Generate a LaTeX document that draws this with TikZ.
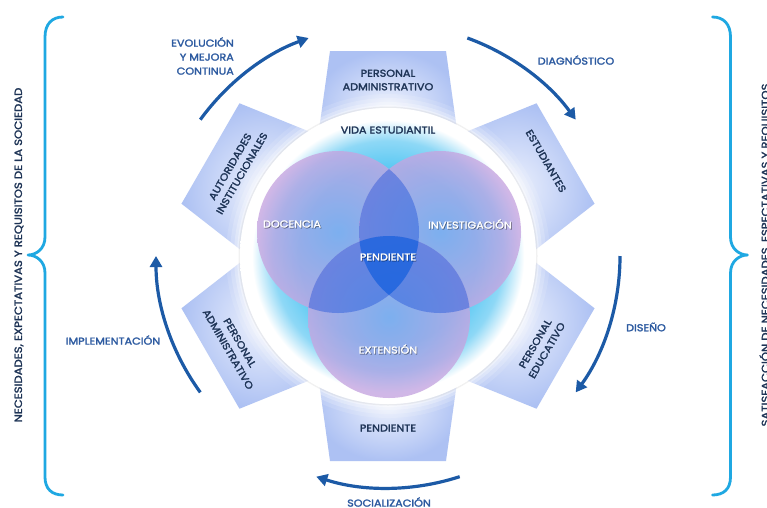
\documentclass[tikz,border=0pt]{standalone}
\usepackage{fontspec}
\setmainfont{Poppins}
\newfontfamily\hf{Poppins}[FakeBold=2.2, FakeStretch=1.12]
\usetikzlibrary{arrows.meta,calc}
\definecolor{navy}{HTML}{1E3456}
\definecolor{lblue}{HTML}{2C5AA0}
\definecolor{arrowblue}{HTML}{1C5AA6}
\definecolor{braceblue}{HTML}{1FA8E2}
\definecolor{panelin}{HTML}{EEF2FD}
\definecolor{panelout}{HTML}{ADC1F3}
\definecolor{cA}{HTML}{5CC9F3}
\definecolor{cB}{HTML}{8ED8F6}
\definecolor{cC}{HTML}{CFEEFB}
\definecolor{vin}{HTML}{86A8EE}
\definecolor{vout}{HTML}{C6A4E0}
\definecolor{ovl}{HTML}{1460DE}
\pgfdeclareradialshading{bigc}{\pgfpoint{0bp}{0bp}}{color(0bp)=(cA); color(15bp)=(cA); color(19.5bp)=(cB); color(21.5bp)=(cC); color(23bp)=(white); color(25bp)=(white); color(50bp)=(white)}
\tikzset{
  ptext/.style={text=navy, font=\hf\fontsize{10}{13.5}\selectfont, align=center, inner sep=0pt},
  atext/.style={text=lblue, font=\hf\fontsize{10}{14}\selectfont, inner sep=0pt},
  vtext/.style={text=navy, font=\hf\fontsize{10.4}{12}\selectfont, inner sep=0pt},
  vlabel/.style={text=white, font=\hf\fontsize{10}{12}\selectfont, inner sep=0pt},
  vshadow/.style={text=black, opacity=0.35, font=\hf\fontsize{10}{12}\selectfont, inner sep=0pt},
  cyc/.style={draw=arrowblue, line width=3.2pt, -{Triangle[length=11pt,width=12pt]}},
  bracestyle/.style={draw=braceblue, line width=2.8pt, line cap=round, line join=round},
  panelshape/.style={inner color=panelin, outer color=panelout}
}
\begin{document}
\begin{tikzpicture}[x=1pt,y=-1pt]
\useasboundingbox (0,0) rectangle (767,507);
\fill[white] (0,0) rectangle (767,507);
\coordinate (C) at (388,256);

% panels
\foreach \rot in {0,-60,-120,180,120,60} {
  \begin{scope}[shift={(388,256)}, rotate=\rot]
    \shade[panelshape] (-58,-205) -- (58,-205) -- (74,-90) -- (-74,-90) -- cycle;
  \end{scope}
}

% glow and soft shadow around the circle
\foreach \r/\o in {162/0.12,158/0.18,154/0.26,151/0.35} {
  \fill[white, opacity=\o] (C) circle (\r);
}
\draw[black!30, line width=1.4pt, opacity=0.18] (C) circle (148.8);
\shade[shading=bigc] (C) circle (148);

% venn circles
\shade[fill opacity=0.78, inner color=vin, outer color=vout] (338,232) circle (81);
\shade[fill opacity=0.78, inner color=vin, outer color=vout] (440,232) circle (81);
\shade[fill opacity=0.78, inner color=vin, outer color=vout] (389,317) circle (81);
\begin{scope}
  \clip (338,232) circle (81);
  \fill[ovl, fill opacity=0.48] (440,232) circle (81);
  \fill[ovl, fill opacity=0.48] (389,317) circle (81);
\end{scope}
\begin{scope}
  \clip (440,232) circle (81);
  \fill[ovl, fill opacity=0.48] (389,317) circle (81);
\end{scope}

% venn labels
\node[vshadow] (docs) at (292.8,224.8) {DOCENCIA};
\node[vlabel] (doc) at (292,224) {DOCENCIA};
\node[vshadow] (invs) at (470.8,224.8) {INVESTIGACIÓN};
\node[vlabel] (inv) at (470,224) {INVESTIGACIÓN};
\node[vshadow] (pens) at (388.8,257.8) {PENDIENTE};
\node[vlabel] (pen) at (388,257) {PENDIENTE};
\node[vshadow] (exts) at (388.8,349.8) {EXTENSIÓN};
\node[vlabel] (ext) at (388,349) {EXTENSIÓN};
\node[ptext] (vida) at (388,130) {VIDA ESTUDIANTIL};

% panel texts
\node[ptext] (padm) at (388,80) {PERSONAL\\ADMINISTRATIVO};
\node[ptext, rotate=60] (aut) at (236,170) {AUTORIDADES\\INSTITUCIONALES};
\node[ptext, rotate=-60] (est) at (546,161) {ESTUDIANTES};
\node[ptext, rotate=60] (pedu) at (541,347) {PERSONAL\\EDUCATIVO};
\node[ptext, rotate=-60] (padm2) at (234,346) {PERSONAL\\ADMINISTRATIVO};
\node[ptext] (pend) at (388,428) {PENDIENTE};

% cycle arrows
\draw[cyc] ($(C)+(-144:232)$) arc[start angle=-144, end angle=-110, radius=232];
\draw[cyc] ($(C)+(-70:232)$) arc[start angle=-70, end angle=-36, radius=232];
\draw[cyc] ($(C)+(0:232)$) arc[start angle=0, end angle=36, radius=232];
\draw[cyc] ($(C)+(72:232)$) arc[start angle=72, end angle=108, radius=232];
\draw[cyc] ($(C)+(144:232)$) arc[start angle=144, end angle=180, radius=232];

% arrow labels
\node[atext, anchor=east, align=right] (evo) at (234,56) {EVOLUCIÓN\\Y MEJORA\\CONTINUA};
\node[atext] (diag) at (576,60) {DIAGNÓSTICO};
\node[atext] (dis) at (646,327) {DISEÑO};
\node[atext] (soc) at (389,502) {SOCIALIZACIÓN};
\node[atext] (impl) at (113,340) {IMPLEMENTACIÓN};

% braces
\draw[bracestyle] (63,17) .. controls (52,17) and (45,24) .. (45,37) -- (45,237)
  .. controls (45,249) and (36,255) .. (28,255)
  .. controls (36,255) and (45,261) .. (45,273) -- (45,477)
  .. controls (45,489) and (52,495) .. (63,495);
\draw[bracestyle] (712.5,17) .. controls (723.5,17) and (730.5,24) .. (730.5,37) -- (730.5,237)
  .. controls (730.5,249) and (739.5,255) .. (747.5,255)
  .. controls (739.5,255) and (730.5,261) .. (730.5,273) -- (730.5,477)
  .. controls (730.5,489) and (723.5,495) .. (712.5,495);

% side texts
\node[vtext, rotate=90] (lt) at (19,255) {NECESIDADES, EXPECTATIVAS Y REQUISITOS DE LA SOCIEDAD};
\node[vtext, rotate=90] (rt) at (765,255) {SATISFACCIÓN DE NECESIDADES, ESPECTATIVAS Y REQUISITOS};
\end{tikzpicture}
\end{document}
